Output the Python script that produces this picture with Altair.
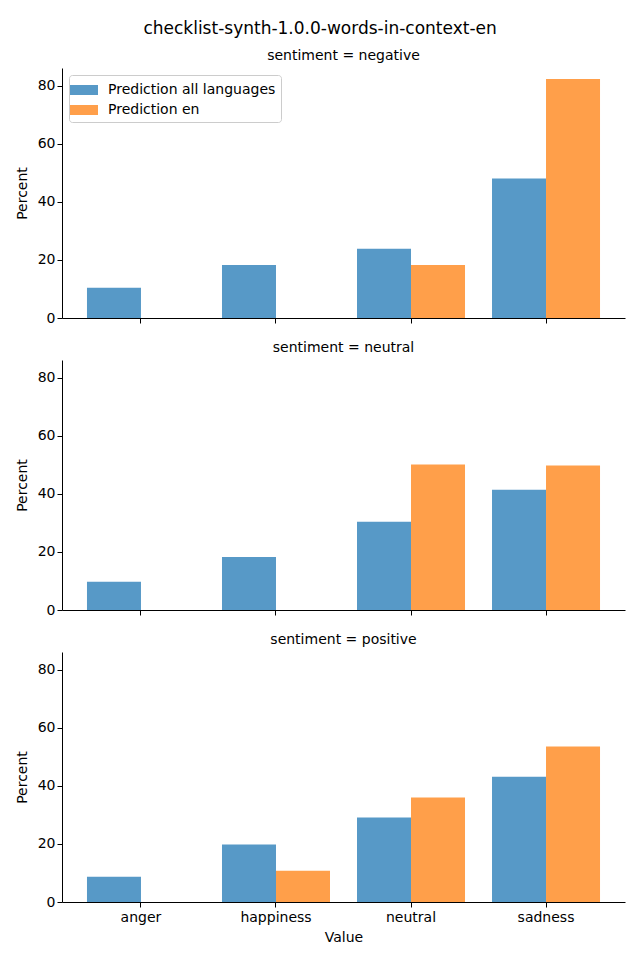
import altair as alt
import pandas as pd

sentiments = ["negative", "neutral", "positive"]
values = ["anger", "happiness", "neutral", "sadness"]
series = ["Prediction all languages", "Prediction en"]

all_negative = [10.4, 18.3, 23.9, 48.1]
en_negative = [0.0, 0.0, 18.3, 82.4]
all_neutral = [9.7, 18.3, 30.4, 41.5]
en_neutral = [0.0, 0.0, 50.2, 49.8]
all_positive = [8.7, 19.8, 29.1, 43.2]
en_positive = [0.0, 10.8, 36.0, 53.6]

colors = ["#5799c7", "#ff9f4a"]

data = {
    "negative": (all_negative, en_negative),
    "neutral": (all_neutral, en_neutral),
    "positive": (all_positive, en_positive),
}

rows = []
for s in sentiments:
    a, e = data[s]
    for v, pa, pe in zip(values, a, e):
        rows.append({"sentiment": s, "Value": v, "series": series[0], "Percent": pa})
        rows.append({"sentiment": s, "Value": v, "series": series[1], "Percent": pe})
df = pd.DataFrame(rows)

FONT = "DejaVu Sans"
FS = 14


def panel(s, bottom, first):
    x_axis = alt.Axis(
        labelAngle=0,
        labels=bottom,
        title="Value" if bottom else None,
        labelPadding=3,
        titlePadding=6,
    )
    legend = (
        alt.Legend(
            title=None,
            orient="none",
            legendX=7,
            legendY=7,
            symbolType="M-1.4,-0.5L1.4,-0.5L1.4,0.5L-1.4,0.5Z",
            symbolSize=400,
            symbolStrokeWidth=0,
            symbolOpacity=1,
            labelFontSize=FS,
            labelFont=FONT,
            labelOffset=14,
            labelLimit=0,
            fillColor="white",
            strokeColor="#cccccc",
            padding=5,
            cornerRadius=3,
            rowPadding=3,
        )
        if first
        else None
    )
    color = alt.Color(
        "series:N",
        scale=alt.Scale(domain=series, range=colors),
        legend=legend,
    )
    return (
        alt.Chart(df[df["sentiment"] == s])
        .mark_bar()
        .encode(
            x=alt.X(
                "Value:N",
                sort=values,
                scale=alt.Scale(paddingInner=0.2, paddingOuter=0.185),
                axis=x_axis,
            ),
            xOffset=alt.XOffset("series:N", sort=series, scale=alt.Scale(paddingInner=0, paddingOuter=0)),
            y=alt.Y(
                "Percent:Q",
                scale=alt.Scale(domain=[0, 86.2], nice=False),
                axis=alt.Axis(values=[0, 20, 40, 60, 80], title="Percent", titlePadding=8),
            ),
            color=color,
        )
        .properties(
            width=563,
            height=250,
            title=alt.TitleParams(f"sentiment = {s}", fontSize=FS, font=FONT, fontWeight="normal", offset=5),
        )
    )


chart = (
    alt.vconcat(
        panel("negative", False, True),
        panel("neutral", False, False),
        panel("positive", True, False),
        spacing=16,
    )
    .resolve_scale(color="shared")
    .properties(
        title=alt.TitleParams(
            "checklist-synth-1.0.0-words-in-context-en",
            fontSize=17,
            font=FONT,
            fontWeight="normal",
            anchor="middle",
            offset=11,
        ),
        padding={"left": 7, "top": 12, "right": 7, "bottom": 5},
    )
    .configure_view(stroke=None)
    .configure_axis(
        labelFont=FONT,
        titleFont=FONT,
        labelFontSize=FS,
        titleFontSize=FS,
        titleFontWeight="normal",
        labelColor="black",
        titleColor="black",
        domainColor="black",
        tickColor="black",
        tickSize=5,
        grid=False,
    )
    .configure_title(color="black")
)

chart.save("out.html", embed_options={"renderer": "svg", "actions": False})
